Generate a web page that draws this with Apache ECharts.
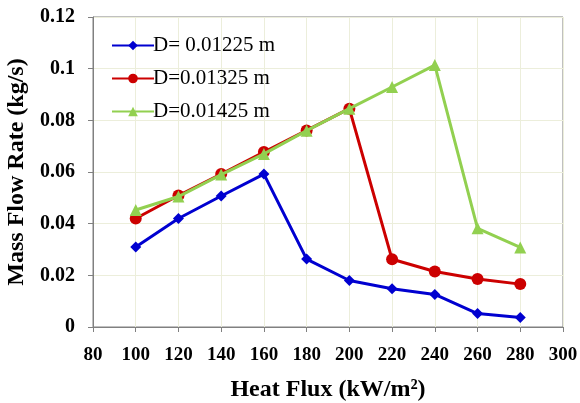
<!DOCTYPE html>
<html>
<head>
<meta charset="utf-8">
<script src="https://cdn.jsdelivr.net/npm/echarts@6/dist/echarts.min.js"></script>
<style>
html, body { margin: 0; padding: 0; background: #fff; }
#chart { width: 580px; height: 403px; }
</style>
</head>
<body>
<div id="chart"></div>
<script>
var heatFlux = [100, 120, 140, 160, 180, 200, 220, 240, 260, 280];
var d01225 = [0.031, 0.042, 0.0507, 0.0592, 0.0263, 0.0180, 0.0148, 0.0126, 0.0052, 0.0037];
var d01325 = [0.042, 0.0509, 0.0592, 0.0677, 0.0761, 0.0845, 0.0262, 0.0215, 0.0186, 0.0166];
var d01425 = [0.0453, 0.0505, 0.0590, 0.0670, 0.0760, 0.0845, 0.0929, 0.1014, 0.0382, 0.0308];
var seriesNames = ['D= 0.01225 m', 'D=0.01325 m', 'D=0.01425 m'];

function pairs(vals) {
    return heatFlux.map(function (x, i) { return [x, vals[i]]; });
}

var chart = echarts.init(document.getElementById('chart'));
var serif = '"Liberation Serif", "DejaVu Serif", serif';

chart.setOption({
    animation: false,
    grid: {
        left: 93, right: 17, top: 17, bottom: 76,
        outerBoundsMode: 'none',
        containLabel: false,
        show: true, borderColor: '#808080', borderWidth: 1
    },
    legend: {
        orient: 'vertical',
        left: 106, top: 30,
        itemWidth: 42, itemHeight: 12, itemGap: 12,
        textStyle: { fontFamily: serif, fontSize: 21, color: '#000', padding: [0, 0, 0, -6] },
        data: seriesNames
    },
    xAxis: {
        type: 'value',
        min: 80, max: 300, interval: 20,
        name: 'Heat Flux (kW/m²)',
        nameLocation: 'middle', nameGap: 51,
        nameTextStyle: { fontFamily: serif, fontSize: 24, fontWeight: 'bold', color: '#000' },
        axisLine: { lineStyle: { color: '#808080' } },
        axisTick: { show: true, length: 5, lineStyle: { color: '#808080' } },
        axisLabel: { fontFamily: serif, fontSize: 19, fontWeight: 'bold', color: '#000', margin: 19 },
        splitLine: { show: true, lineStyle: { color: '#eceedb' } }
    },
    yAxis: {
        type: 'value',
        min: 0, max: 0.12, interval: 0.02,
        name: 'Mass Flow Rate (kg/s)',
        nameLocation: 'middle', nameGap: 62,
        nameTextStyle: { fontFamily: serif, fontSize: 24, fontWeight: 'bold', color: '#000' },
        axisLine: { show: true, lineStyle: { color: '#808080' } },
        axisTick: { show: true, length: 5, lineStyle: { color: '#808080' } },
        axisLabel: {
            fontFamily: serif, fontSize: 20, fontWeight: 'bold', color: '#000', margin: 18,
            formatter: function (v) { return v === 0 ? '0' : String(+v.toFixed(2)); }
        },
        splitLine: { show: true, lineStyle: { color: '#eceedb' } }
    },
    series: [
        {
            name: seriesNames[0], type: 'line', data: pairs(d01225),
            symbol: 'diamond', symbolSize: 11,
            itemStyle: { color: '#0000d0' }, lineStyle: { width: 3, color: '#0000d0' }, z: 3
        },
        {
            name: seriesNames[1], type: 'line', data: pairs(d01325),
            symbol: 'circle', symbolSize: 12,
            itemStyle: { color: '#cc0000' }, lineStyle: { width: 3, color: '#cc0000' }, z: 2
        },
        {
            name: seriesNames[2], type: 'line', data: pairs(d01425),
            symbol: 'triangle', symbolSize: 12,
            itemStyle: { color: '#92d050' }, lineStyle: { width: 3, color: '#92d050' }, z: 4
        }
    ]
});
</script>
</body>
</html>
